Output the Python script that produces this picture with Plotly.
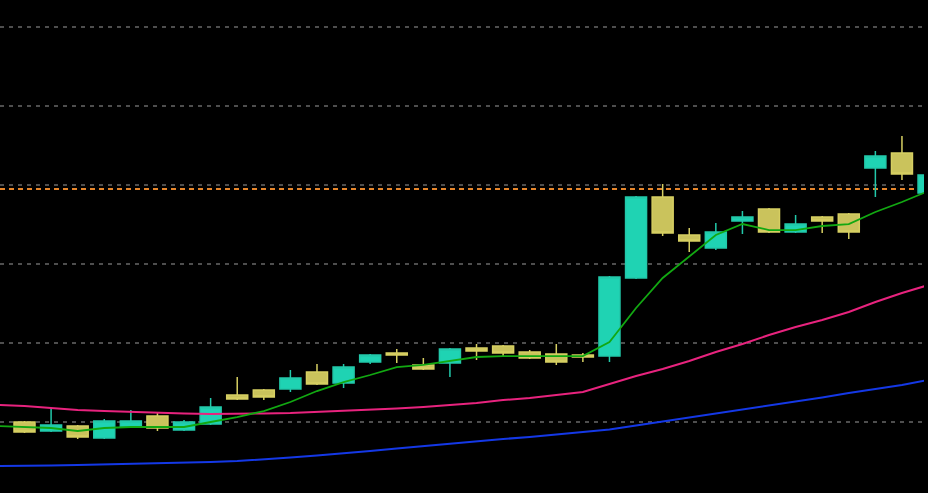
import plotly.graph_objects as go

# ---- data (price units; grid every 1.0) ----
candle_idx = list(range(0, 35))
open_ = [10.000, 9.886, 9.949, 9.797, 9.937, 10.076, 9.899, 9.975, 10.342, 10.405,
         10.418, 10.633, 10.494, 10.759, 10.873, 10.722, 10.747, 10.937, 10.962, 10.886,
         10.861, 10.848, 10.835, 11.823, 12.848, 12.367, 12.203, 12.544, 12.696, 12.405,
         12.595, 12.633, 13.215, 13.405, 12.899]
high_ = [10.013, 10.177, 9.962, 10.038, 10.152, 10.114, 10.025, 10.304, 10.570, 10.418,
         10.658, 10.734, 10.734, 10.861, 10.924, 10.810, 10.937, 10.987, 10.975, 10.911,
         10.987, 10.873, 11.848, 12.861, 13.013, 12.456, 12.519, 12.671, 12.709, 12.620,
         12.608, 12.646, 13.430, 13.620, 13.722]
low_ = [9.861, 9.873, 9.785, 9.785, 9.924, 9.886, 9.886, 9.962, 10.278, 10.278,
        10.380, 10.468, 10.430, 10.734, 10.747, 10.658, 10.570, 10.785, 10.835, 10.797,
        10.722, 10.759, 10.759, 11.810, 12.354, 12.152, 12.177, 12.380, 12.392, 12.392,
        12.392, 12.316, 12.848, 13.063, 12.886]
close_ = [9.873, 9.962, 9.810, 10.013, 10.013, 9.924, 10.000, 10.190, 10.291, 10.316,
          10.557, 10.481, 10.696, 10.848, 10.848, 10.671, 10.924, 10.899, 10.873, 10.810,
          10.759, 10.823, 11.835, 12.848, 12.392, 12.291, 12.405, 12.595, 12.405, 12.506,
          12.544, 12.405, 13.367, 13.139, 13.127]

ma_idx = list(range(-1, 35))
ma_short = [9.949, 9.937, 9.924, 9.886, 9.924, 9.937, 9.937, 9.937, 10.000, 10.063,
            10.139, 10.253, 10.392, 10.506, 10.595, 10.696, 10.722, 10.772, 10.823, 10.835,
            10.835, 10.835, 10.835, 11.013, 11.443, 11.823, 12.101, 12.367, 12.506, 12.430,
            12.430, 12.481, 12.506, 12.658, 12.785, 12.924]
ma_mid = [10.215, 10.203, 10.177, 10.152, 10.139, 10.127, 10.114, 10.108, 10.101, 10.101,
          10.108, 10.114, 10.127, 10.139, 10.152, 10.171, 10.190, 10.215, 10.241, 10.278,
          10.304, 10.342, 10.380, 10.481, 10.582, 10.671, 10.772, 10.886, 10.987, 11.101,
          11.203, 11.291, 11.392, 11.519, 11.633, 11.734]
ma_long = [9.443, 9.443, 9.449, 9.456, 9.462, 9.468, 9.481, 9.487, 9.494, 9.506,
           9.525, 9.551, 9.576, 9.601, 9.633, 9.665, 9.696, 9.722, 9.753, 9.785,
           9.810, 9.842, 9.873, 9.905, 9.956, 10.006, 10.057, 10.108, 10.158, 10.209,
           10.259, 10.310, 10.367, 10.418, 10.468, 10.532]

grid_vals = [10, 11, 12, 13, 14, 15]
ref_price = 12.949

UP = "#1fd3b3"
DOWN = "#cac35c"

fig = go.Figure()
fig.add_trace(go.Candlestick(
    x=candle_idx, open=open_, high=high_, low=low_, close=close_,
    increasing=dict(fillcolor=UP, line=dict(color="#22c9aa", width=1.5)),
    decreasing=dict(fillcolor=DOWN, line=dict(color="#d6cf62", width=1.5)),
    whiskerwidth=0, hoverinfo="skip", showlegend=False,
))
fig.add_trace(go.Scatter(x=ma_idx, y=ma_mid, mode="lines",
                         line=dict(color="#e8237e", width=2), hoverinfo="skip", showlegend=False))
fig.add_trace(go.Scatter(x=ma_idx, y=ma_long, mode="lines",
                         line=dict(color="#1438e6", width=2), hoverinfo="skip", showlegend=False))
fig.add_trace(go.Scatter(x=ma_idx, y=ma_short, mode="lines",
                         line=dict(color="#12a812", width=1.8), hoverinfo="skip", showlegend=False))

fig.add_hline(y=ref_price, line=dict(color="#e8862a", width=2, dash="5px,4px"), layer="below")

fig.update_layout(
    width=928, height=493,
    margin=dict(l=0, r=4, t=0, b=0),
    paper_bgcolor="black", plot_bgcolor="black",
    boxgap=0.21, boxgroupgap=0,
    showlegend=False,
    xaxis=dict(range=[-0.9214, 33.829], visible=False, rangeslider=dict(visible=False),
               showgrid=False, zeroline=False),
    yaxis=dict(range=[9.1013, 15.3418], tickvals=grid_vals, showticklabels=False,
               showgrid=True, gridcolor="#4e4e4e", gridwidth=1.5, griddash="4px,5px",
               zeroline=False, showline=False, ticks=""),
)

fig.write_html(
    "out.html",
    config={"displayModeBar": False, "staticPlot": True},
    post_script="document.body.style.margin='0';document.body.style.background='black';"
                "document.body.style.overflow='hidden';",
)
